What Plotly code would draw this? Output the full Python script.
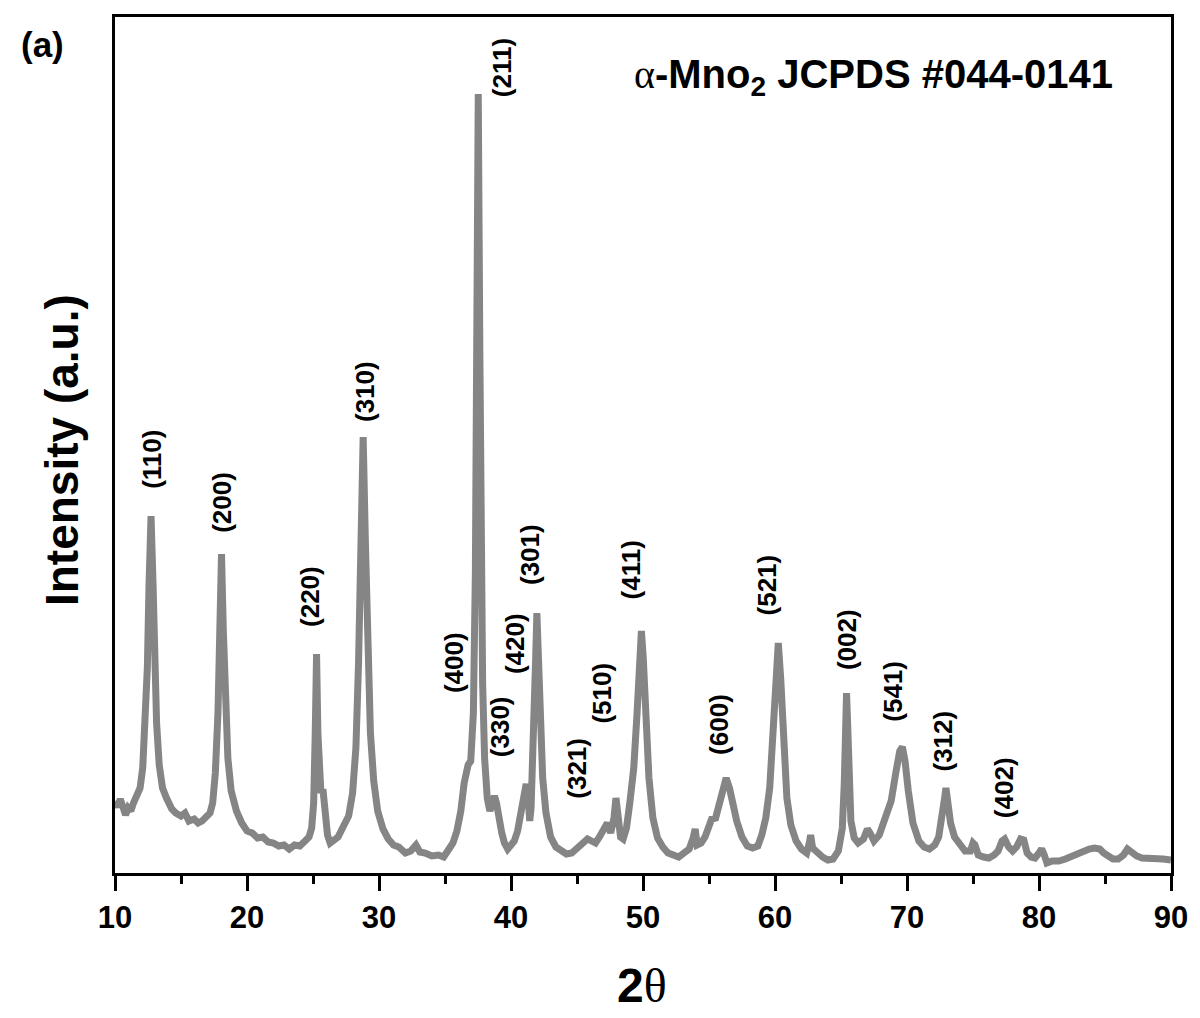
import plotly.graph_objects as go

# XRD pattern (2theta in degrees, intensity in a.u.)
two_theta = [10.0, 10.2, 10.4, 10.6, 10.8, 11.0, 11.2, 11.4, 11.6, 11.9, 12.1, 12.3, 12.45, 12.58,
             12.73, 12.88, 13.0, 13.15, 13.35, 13.6, 13.9, 14.3, 14.6, 15.0, 15.3, 15.6, 16.0, 16.3,
             16.6, 16.9, 17.2, 17.4, 17.6, 17.8, 17.95, 18.07, 18.2, 18.35, 18.55, 18.8, 19.2, 19.6,
             20.0, 20.4, 20.8, 21.2, 21.6, 22.0, 22.4, 22.8, 23.2, 23.6, 24.0, 24.4, 24.7, 24.9,
             25.05, 25.17, 25.27, 25.37, 25.48, 25.6, 25.75, 25.9, 26.1, 26.3, 26.6, 26.9, 27.2, 27.5,
             27.7, 28.0, 28.25, 28.45, 28.62, 28.8, 28.97, 29.15, 29.35, 29.6, 29.9, 30.3, 30.7, 31.1,
             31.5, 32.0, 32.4, 32.8, 33.1, 33.5, 34.0, 34.5, 34.9, 35.3, 35.6, 35.9, 36.2, 36.45,
             36.6, 36.75, 36.95, 37.15, 37.3, 37.4, 37.52, 37.64, 37.74, 37.85, 38.0, 38.2, 38.4, 38.6,
             38.75, 38.9, 39.1, 39.3, 39.5, 39.75, 40.0, 40.25, 40.5, 40.75, 40.95, 41.15, 41.3, 41.42,
             41.52, 41.6, 41.75, 41.87, 41.96, 42.06, 42.2, 42.4, 42.65, 43.0, 43.4, 43.8, 44.2, 44.6,
             45.0, 45.4, 45.8, 46.1, 46.4, 46.7, 47.0, 47.3, 47.55, 47.8, 47.95, 48.1, 48.3, 48.5,
             48.75, 49.0, 49.3, 49.55, 49.75, 49.88, 50.02, 50.22, 50.45, 50.75, 51.1, 51.5, 51.9, 52.3,
             52.7, 53.1, 53.5, 53.8, 53.95, 54.1, 54.4, 54.7, 55.0, 55.2, 55.5, 55.8, 56.05, 56.3,
             56.55, 56.8, 57.1, 57.5, 57.9, 58.3, 58.7, 59.0, 59.3, 59.6, 59.85, 60.05, 60.25, 60.43,
             60.65, 60.9, 61.2, 61.6, 62.0, 62.4, 62.6, 62.7, 62.85, 63.2, 63.6, 64.0, 64.4, 64.8,
             65.1, 65.25, 65.35, 65.42, 65.5, 65.6, 65.75, 66.0, 66.3, 66.7, 67.0, 67.2, 67.5, 67.9,
             68.2, 68.4, 68.8, 69.15, 69.45, 69.65, 69.85, 70.1, 70.45, 70.9, 71.3, 71.7, 72.1, 72.4,
             72.7, 72.85, 72.95, 73.08, 73.3, 73.6, 74.0, 74.4, 74.8, 75.0, 75.15, 75.4, 75.8, 76.2,
             76.6, 76.9, 77.2, 77.4, 77.7, 78.0, 78.3, 78.6, 78.85, 79.1, 79.4, 79.7, 80.0, 80.2,
             80.4, 80.6, 81.0, 81.5, 82.0, 82.5, 83.0, 83.4, 83.8, 84.2, 84.6, 84.9, 85.2, 85.6,
             86.0, 86.4, 86.7, 87.0, 87.4, 87.8, 88.3, 88.8, 89.4, 90.0]
intensity = [72, 66, 74, 64, 58, 65, 62, 70, 76, 85, 105, 150, 205, 290,
             357, 290, 215, 150, 108, 85, 75, 64, 60, 57, 60, 52, 54, 50,
             52, 56, 60, 70, 100, 160, 240, 319, 245, 170, 115, 82, 62, 50,
             42, 40, 35, 36, 31, 30, 27, 28, 24, 28, 27, 32, 36, 45,
             70, 140, 219, 140, 90, 80, 84, 60, 38, 30, 33, 36, 44, 50,
             57, 80, 125, 210, 330, 436, 330, 215, 140, 92, 62, 44, 34, 28,
             26, 20, 22, 28, 21, 20, 17, 18, 16, 24, 30, 42, 62, 90,
             105, 108, 112, 160, 300, 520, 779, 520, 320, 190, 115, 75, 62, 70,
             77, 70, 52, 40, 30, 24, 28, 32, 42, 60, 80, 89, 75, 52,
             65, 92, 150, 215, 260, 222, 150, 95, 60, 36, 26, 22, 19, 20,
             24, 28, 34, 32, 30, 36, 42, 50, 40, 55, 75, 58, 36, 34,
             45, 70, 105, 160, 220, 242, 215, 150, 95, 55, 35, 26, 20, 18,
             16, 20, 24, 35, 44, 28, 30, 36, 50, 54, 55, 70, 88, 95,
             85, 68, 52, 36, 27, 25, 27, 38, 55, 85, 140, 200, 230, 195,
             125, 75, 48, 32, 24, 20, 30, 38, 25, 20, 16, 13, 14, 22,
             45, 90, 150, 180, 150, 90, 52, 35, 30, 34, 44, 40, 32, 38,
             48, 57, 72, 100, 122, 126, 112, 82, 50, 32, 26, 24, 28, 36,
             57, 75, 85, 72, 50, 36, 28, 22, 22, 30, 28, 18, 16, 15,
             18, 22, 32, 34, 26, 22, 26, 34, 33, 20, 16, 15, 20, 24,
             18, 10, 12, 12, 14, 17, 19, 22, 24, 25, 24, 20, 18, 14,
             14, 18, 24, 20, 17, 15, 15, 14, 14, 13]

# Miller index labels and where they sit (2theta, intensity)
hkl_labels = ["(110)", "(200)", "(220)", "(310)", "(211)", "(400)", "(330)", "(420)", "(301)",
              "(321)", "(510)", "(411)", "(600)", "(521)", "(002)", "(541)", "(312)", "(402)"]
hkl_x = [12.79, 18.09, 24.77, 28.94, 39.33, 35.69, 39.18, 40.31, 41.44,
         44.98, 46.86, 49.12, 55.75, 59.43, 65.46, 68.92, 72.69, 77.36]
hkl_y = [414, 371, 277, 481, 805, 210, 146, 229, 318,
         105, 180, 303, 149, 288, 233, 182, 132, 85]

x_ticks = [10, 20, 30, 40, 50, 60, 70, 80, 90]

FONT = "Liberation Sans, Arial, sans-serif"

fig = go.Figure()
fig.add_trace(go.Scatter(x=two_theta, y=intensity, mode="lines",
                         line=dict(color="#858585", width=7), showlegend=False,
                         hoverinfo="skip"))

for lab, lx, ly in zip(hkl_labels, hkl_x, hkl_y):
    fig.add_annotation(x=lx, y=ly, xref="x", yref="y", text="<b>" + lab + "</b>",
                       textangle=-90, showarrow=False, xanchor="center", yanchor="middle",
                       font=dict(family=FONT, size=26, color="black"))

fig.add_annotation(x=0.7185, y=0.930, xref="paper", yref="paper",
                   text="<span style='font-family:Liberation Serif'>α</span><b>-Mno<sub>2</sub> JCPDS #044-0141</b>",
                   showarrow=False, xanchor="center", yanchor="middle",
                   font=dict(family=FONT, size=40, color="black"))
fig.add_annotation(x=-0.0683, y=0.968, xref="paper", yref="paper", text="<b>(a)</b>",
                   showarrow=False, xanchor="center", yanchor="middle",
                   font=dict(family=FONT, size=35, color="black"))
fig.add_annotation(x=-0.0503, y=0.494, xref="paper", yref="paper", text="<b>Intensity (a.u.)</b>",
                   textangle=-90, showarrow=False, xanchor="center", yanchor="middle",
                   font=dict(family=FONT, size=46, color="black"))
fig.add_annotation(x=0.4988, y=-0.131, xref="paper", yref="paper",
                   text="<b>2</b><span style='font-family:Liberation Serif'>θ</span>",
                   showarrow=False, xanchor="center", yanchor="middle",
                   font=dict(family=FONT, size=48, color="black"))

fig.update_layout(
    width=1200, height=1018,
    margin=dict(l=115, r=23, t=17, b=145),
    paper_bgcolor="white", plot_bgcolor="white",
    xaxis=dict(range=[10, 90], tickvals=x_ticks, ticktext=[str(t) for t in x_ticks],
               ticks="outside", ticklen=15, tickwidth=3, tickcolor="black",
               minor=dict(ticks="outside", ticklen=8, tickwidth=3, tickcolor="black", dtick=5),
               showline=True, linewidth=3, linecolor="black", mirror=True,
               showgrid=False, zeroline=False,
               tickfont=dict(family=FONT, size=31, color="black", weight="bold")),
    yaxis=dict(range=[0, 856], showticklabels=False, ticks="",
               showline=True, linewidth=3, linecolor="black", mirror=True,
               showgrid=False, zeroline=False),
)

fig.write_html("out.html")
